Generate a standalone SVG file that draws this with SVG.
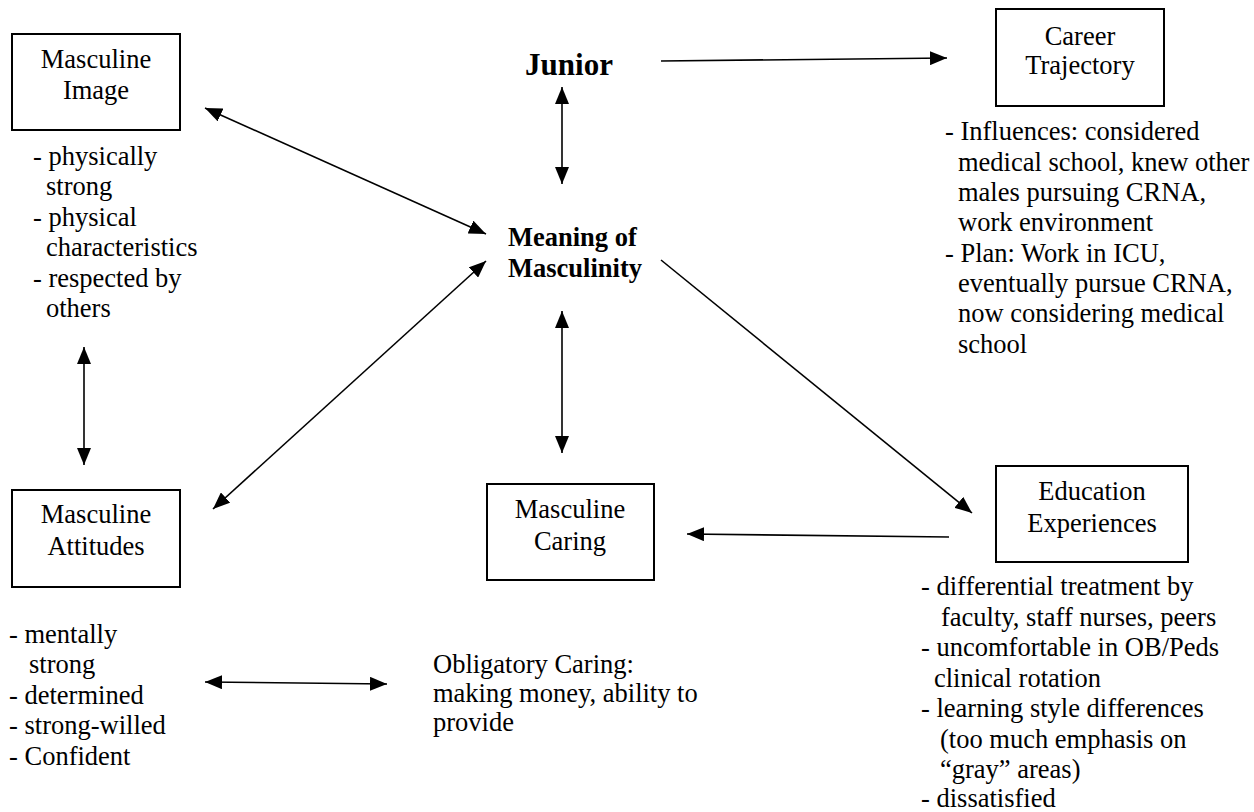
<svg xmlns="http://www.w3.org/2000/svg" width="1254" height="812" viewBox="0 0 1254 812">
<style>
text{font-family:"Liberation Serif","DejaVu Serif",serif;font-size:26.5px;fill:#000}
.c{text-anchor:middle}
.b{font-weight:bold}
.j{font-size:31px}
.box{fill:none;stroke:#000;stroke-width:2}
.ln{stroke:#000;stroke-width:1.6;fill:none}
</style>
<defs>
<marker id="ah" markerUnits="userSpaceOnUse" markerWidth="18" markerHeight="14" refX="17" refY="7" orient="auto-start-reverse">
<path d="M0,0 L17,7 L0,14 z" fill="#000"/>
</marker>
</defs>
<rect width="1254" height="812" fill="#fff"/>
<g id="connectors">
<line class="ln" x1="486" y1="234" x2="205" y2="108" marker-start="url(#ah)" marker-end="url(#ah)"/>
<line class="ln" x1="562" y1="87" x2="562" y2="184" marker-start="url(#ah)" marker-end="url(#ah)"/>
<line class="ln" x1="661" y1="61" x2="947" y2="58" marker-end="url(#ah)"/>
<line class="ln" x1="661" y1="260" x2="972" y2="513" marker-end="url(#ah)"/>
<line class="ln" x1="486" y1="261" x2="213" y2="509" marker-start="url(#ah)" marker-end="url(#ah)"/>
<line class="ln" x1="562" y1="311" x2="562" y2="453" marker-start="url(#ah)" marker-end="url(#ah)"/>
<line class="ln" x1="84" y1="347" x2="84" y2="465" marker-start="url(#ah)" marker-end="url(#ah)"/>
<line class="ln" x1="205" y1="682" x2="387" y2="684" marker-start="url(#ah)" marker-end="url(#ah)"/>
<line class="ln" x1="949" y1="537" x2="687" y2="534" marker-end="url(#ah)"/>
</g>
<g id="masculine-image">
<rect class="box" x="12" y="34" width="168" height="96"/>
<text class="c" x="96" y="68">Masculine</text>
<text class="c" x="96" y="99">Image</text>
<text x="33" y="165">- physically</text>
<text x="46" y="195">strong</text>
<text x="33" y="226">- physical</text>
<text x="46" y="256">characteristics</text>
<text x="33" y="287">- respected by</text>
<text x="46" y="317">others</text>
</g>
<g id="junior">
<text class="c b j" x="569" y="75">Junior</text>
</g>
<g id="meaning">
<text class="b" x="508" y="246">Meaning of</text>
<text class="b" x="508" y="277">Masculinity</text>
</g>
<g id="career">
<rect class="box" x="996" y="9" width="168" height="97"/>
<text class="c" x="1080" y="45">Career</text>
<text class="c" x="1080" y="74">Trajectory</text>
<text x="945" y="140">- Influences: considered</text>
<text x="958" y="171">medical school, knew other</text>
<text x="958" y="201">males pursuing CRNA,</text>
<text x="958" y="231">work environment</text>
<text x="945" y="262">- Plan: Work in ICU,</text>
<text x="958" y="292">eventually pursue CRNA,</text>
<text x="958" y="322">now considering medical</text>
<text x="958" y="353">school</text>
</g>
<g id="masculine-attitudes">
<rect class="box" x="12" y="490" width="168" height="97"/>
<text class="c" x="96" y="523">Masculine</text>
<text class="c" x="96" y="555">Attitudes</text>
<text x="9" y="643">- mentally</text>
<text x="29" y="673">strong</text>
<text x="9" y="704">- determined</text>
<text x="9" y="734">- strong-willed</text>
<text x="9" y="765">- Confident</text>
</g>
<g id="obligatory">
<text x="433" y="673">Obligatory Caring:</text>
<text x="433" y="702">making money, ability to</text>
<text x="433" y="731">provide</text>
</g>
<g id="masculine-caring">
<rect class="box" x="487" y="484" width="167" height="96"/>
<text class="c" x="570" y="518">Masculine</text>
<text class="c" x="570" y="550">Caring</text>
</g>
<g id="education">
<rect class="box" x="996" y="466" width="192" height="96"/>
<text class="c" x="1092" y="500">Education</text>
<text class="c" x="1092" y="532">Experiences</text>
<text x="921" y="595">- differential treatment by</text>
<text x="941" y="626">faculty, staff nurses, peers</text>
<text x="921" y="656">- uncomfortable in OB/Peds</text>
<text x="934" y="687">clinical rotation</text>
<text x="921" y="717">- learning style differences</text>
<text x="940" y="748">(too much emphasis on</text>
<text x="940" y="778">“gray” areas)</text>
<text x="921" y="807">- dissatisfied</text>
</g>
</svg>
